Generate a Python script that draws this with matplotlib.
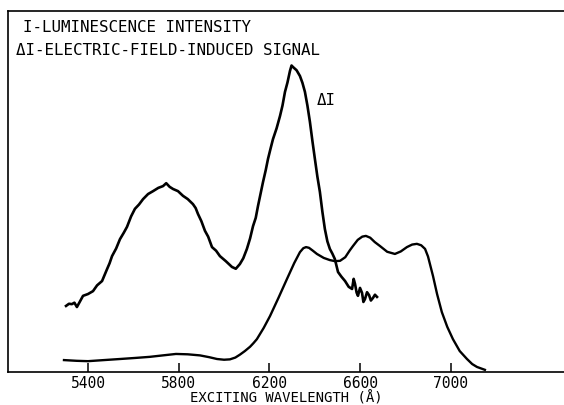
import matplotlib
matplotlib.use("Agg")
import matplotlib.pyplot as plt

# luminescence intensity I (arbitrary units) vs exciting wavelength (Angstrom)
lum_wl = [5294, 5350, 5400, 5470, 5541, 5610, 5673, 5730, 5788, 5840, 5894,
          5935, 5969, 6000, 6026, 6050, 6070, 6092, 6115, 6130, 6145, 6175,
          6203, 6240, 6278, 6310, 6335, 6350, 6362, 6375, 6392, 6410, 6440,
          6467, 6490, 6512, 6535, 6555, 6569, 6590, 6610, 6626, 6645, 6665,
          6688, 6720, 6754, 6780, 6807, 6830, 6851, 6870, 6887, 6900, 6922,
          6940, 6961, 6985, 7010, 7040, 7072, 7095, 7116, 7151]
lum_val = [3.3, 3.1, 3.0, 3.3, 3.6, 3.9, 4.2, 4.6, 5.0, 4.9, 4.6,
           4.1, 3.6, 3.4, 3.5, 4.0, 4.8, 5.8, 7.0, 8.0, 9.1, 12.2,
           15.5, 20.5, 25.8, 30.2, 33.2, 34.3, 34.6, 34.4, 33.6, 32.7, 31.6,
           31.0, 30.7, 30.8, 31.8, 33.7, 34.9, 36.6, 37.5, 37.7, 37.2, 36.0,
           34.9, 33.3, 32.7, 33.4, 34.6, 35.3, 35.5, 35.1, 34.1, 32.0, 26.6,
           21.6, 16.6, 12.5, 9.1, 5.8, 3.6, 2.2, 1.4, 0.6]

# electric-field-induced signal dI
sig_wl = [5303, 5316, 5329, 5340, 5351, 5365, 5378, 5400, 5422, 5440, 5462,
          5484, 5495, 5506, 5524, 5541, 5558, 5572, 5590, 5607, 5625, 5643,
          5665, 5687, 5710, 5731, 5745, 5760, 5775, 5797, 5819, 5840, 5863,
          5875, 5885, 5900, 5916, 5930, 5947, 5965, 5982, 6008, 6035, 6052,
          6070, 6085, 6101, 6115, 6128, 6140, 6150, 6162, 6172, 6184, 6194,
          6205, 6216, 6232, 6247, 6258, 6269, 6280, 6291, 6298, 6304, 6320,
          6335, 6346, 6357, 6368, 6379, 6390, 6401, 6412, 6423, 6434, 6445,
          6456, 6467, 6478, 6489, 6503, 6518, 6534, 6550, 6565, 6572, 6578,
          6585, 6591, 6600, 6609, 6615, 6622, 6631, 6640, 6648, 6657, 6666,
          6675]
sig_val = [18.3, 18.9, 18.8, 19.2, 18.0, 19.6, 21.1, 21.6, 22.4, 24.0, 25.2,
           28.5, 30.1, 32.1, 34.2, 36.8, 38.6, 40.2, 43.1, 45.2, 46.4, 47.9,
           49.3, 50.1, 51.0, 51.5, 52.3, 51.3, 50.7, 50.1, 48.8, 47.9, 46.5,
           45.4, 43.8, 41.8, 39.1, 37.5, 34.6, 33.6, 32.1, 30.7, 29.1, 28.6,
           29.9, 31.5, 34.1, 37.0, 40.4, 42.7, 46.0, 49.6, 52.6, 55.9, 59.0,
           61.8, 64.5, 67.5, 70.9, 73.8, 77.6, 80.2, 83.4, 84.9, 84.5, 83.6,
           82.0, 80.1, 77.6, 73.8, 69.3, 64.0, 59.0, 54.1, 49.9, 44.4, 39.6,
           36.2, 34.1, 32.8, 31.3, 27.7, 26.4, 25.2, 23.6, 23.0, 25.8, 24.4,
           22.0, 21.1, 23.3, 21.9, 19.4, 20.2, 22.1, 21.3, 19.8, 20.5, 21.4,
           20.8]

xticks = [5400, 5800, 6200, 6600, 7000]
mono = "DejaVu Sans Mono"

fig = plt.figure(figsize=(5.64, 4.06), dpi=100)
ax = fig.add_axes([8 / 564, 33 / 406, 1 - 8 / 564, 361 / 406])

ax.plot(lum_wl, lum_val, color="black", lw=1.7, solid_joinstyle="round")
ax.plot(sig_wl, sig_val, color="black", lw=1.9, solid_joinstyle="round")

ax.set_xlim(5047, 7500)
ax.set_ylim(0, 100)
ax.spines["right"].set_visible(False)
for s in ("left", "top", "bottom"):
    ax.spines[s].set_linewidth(1.2)

ax.set_xticks(xticks)
ax.set_xticklabels([str(t) for t in xticks], family=mono, fontsize=10.5)
ax.tick_params(axis="x", direction="in", length=6.5, width=1.1, pad=2.5)
ax.set_yticks([])
ax.set_xlabel("EXCITING WAVELENGTH (Å)", family=mono, fontsize=10,
              labelpad=0)

ax.text(0.027, 0.956, "I-LUMINESCENCE INTENSITY", transform=ax.transAxes,
        family=mono, fontsize=11.4, va="center", ha="left")
ax.text(0.0144, 0.892, "ΔI-ELECTRIC-FIELD-INDUCED SIGNAL",
        transform=ax.transAxes, family=mono, fontsize=11.4, va="center",
        ha="left")
ax.text(6410, 75.6, "ΔI", family=mono, fontsize=11.4, va="center", ha="left")

fig.savefig("out.png", dpi=100)
